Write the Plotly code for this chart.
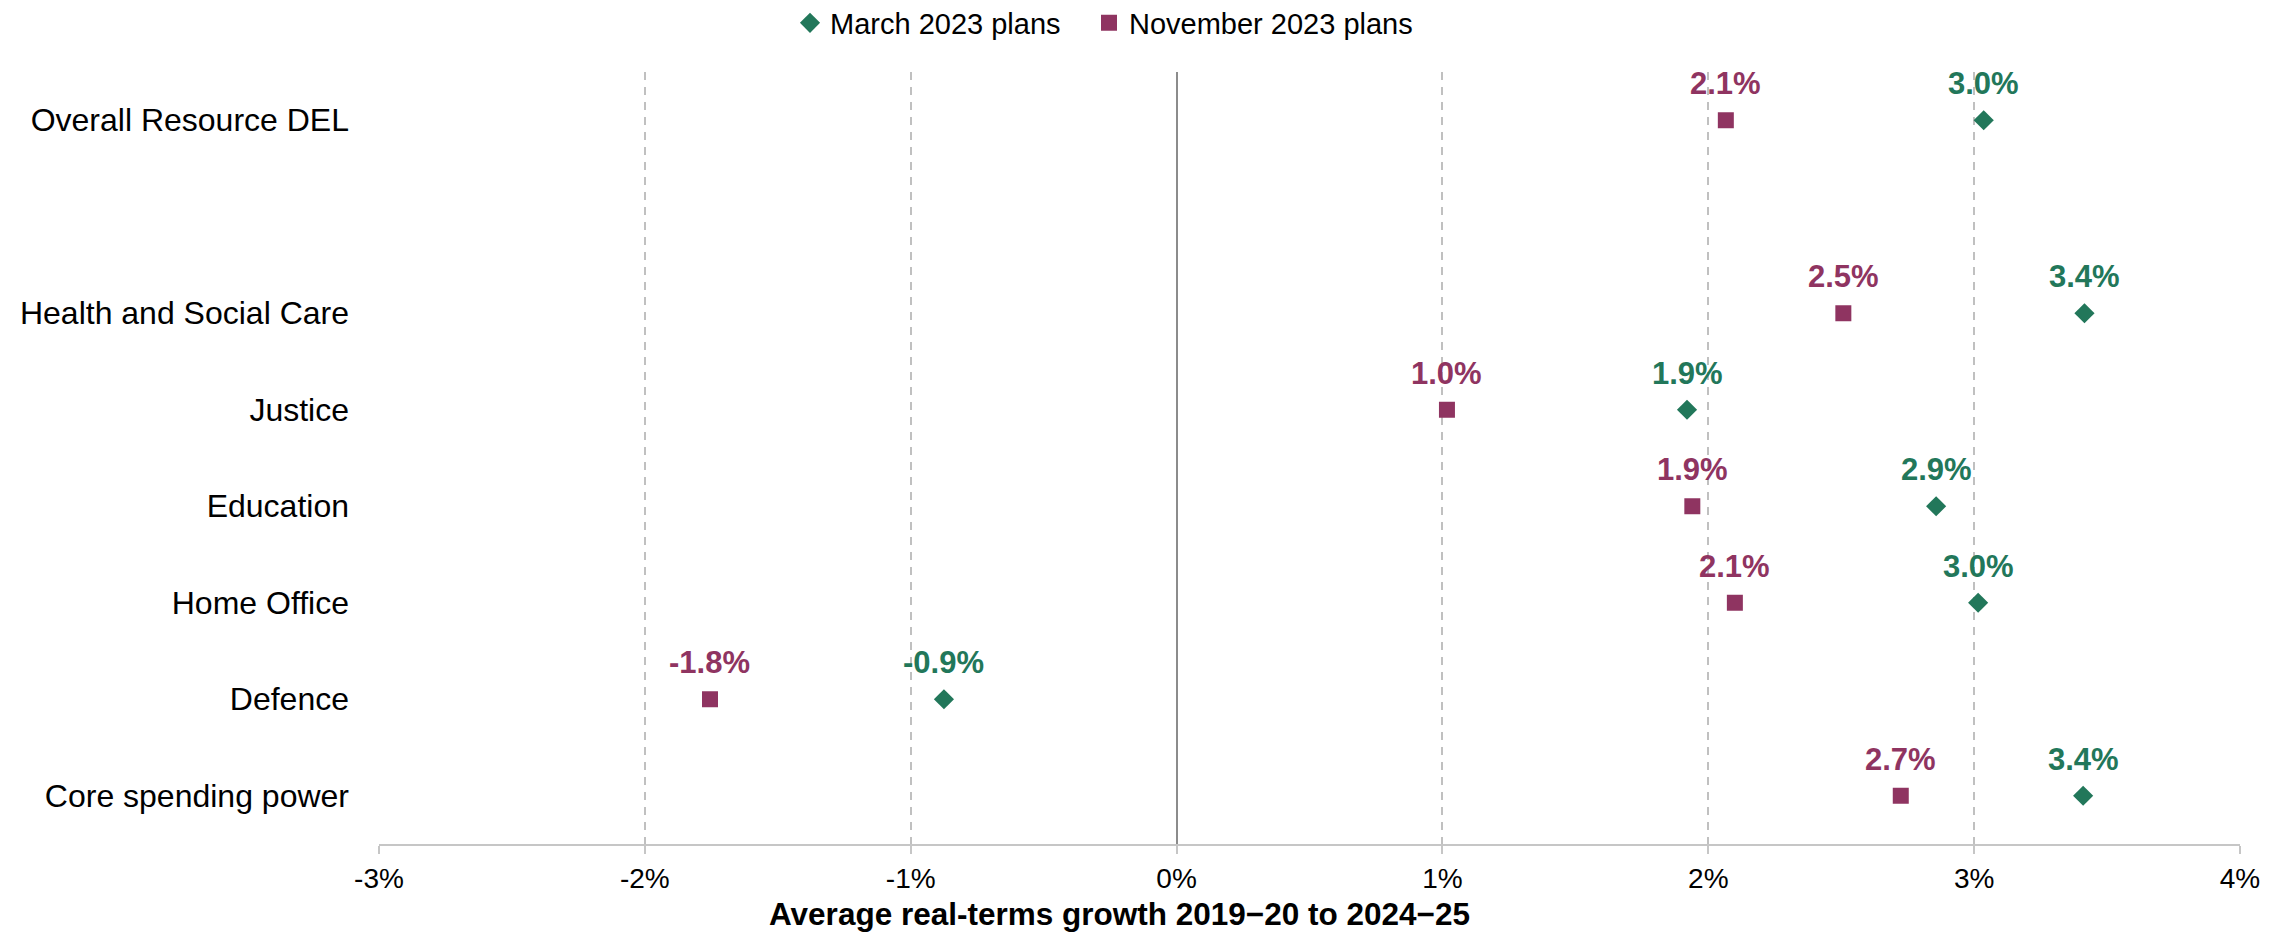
import plotly.graph_objects as go

categories = ["Overall Resource DEL", "Health and Social Care", "Justice", "Education",
              "Home Office", "Defence", "Core spending power"]
march_2023 = [3.036, 3.415, 1.92, 2.857, 3.015, -0.875, 3.41]
november_2023 = [2.066, 2.508, 1.017, 1.94, 2.10, -1.755, 2.724]

x_tickvals = [-3, -2, -1, 0, 1, 2, 3, 4]
x_ticktext = ["-3%", "-2%", "-1%", "0%", "1%", "2%", "3%", "4%"]
x_title = "Average real-terms growth 2019\u221220 to 2024\u221225"
spacer = " "
category_order = [categories[0], spacer] + categories[1:]

GREEN = "#22775A"
PURPLE = "#8F3461"
FONT = "Liberation Sans, Arial, sans-serif"

# page body has an 8px margin, so the figure is sized/placed to compensate
W, H = 2279, 927
L, R, T, B = 365, 47, 64, 91

fig = go.Figure()
fig.add_trace(go.Scatter(
    x=march_2023, y=categories, mode="markers", name="March 2023 plans",
    marker=dict(symbol="diamond", size=15.5, color=GREEN), legend="legend",
))
fig.add_trace(go.Scatter(
    x=november_2023, y=categories, mode="markers", name="November 2023 plans",
    marker=dict(symbol="square", size=16, color=PURPLE), legend="legend2",
))

annotations = []
for vals, col in ((march_2023, GREEN), (november_2023, PURPLE)):
    for v, c in zip(vals, categories):
        annotations.append(dict(
            x=v, y=c, xref="x", yref="y", text=f"<b>{v:.1f}%</b>",
            showarrow=False, yanchor="bottom", xanchor="center", yshift=17,
            font=dict(family=FONT, size=31, color=col),
        ))
plot_w = W - L - R
plot_h = H - T - B
annotations.append(dict(
    x=(1107.5 - L) / plot_w, y=(H - B - 906) / plot_h, xref="paper", yref="paper",
    text=f"<b>{x_title}</b>", showarrow=False, xanchor="center", yanchor="middle",
    font=dict(family=FONT, size=31.5, color="#000000"),
))

legend_common = dict(
    orientation="h", xref="container", yref="container",
    xanchor="left", y=1 - 15 / H, yanchor="middle",
    font=dict(family=FONT, size=29, color="#000000"),
    bgcolor="rgba(0,0,0,0)",
)

fig.update_layout(
    width=W, height=H,
    margin=dict(l=L, r=R, t=T, b=B),
    paper_bgcolor="white", plot_bgcolor="white",
    font=dict(family=FONT, size=29, color="#000000"),
    showlegend=True,
    legend=dict(x=782 / W, **legend_common),
    legend2=dict(x=1081 / W, **legend_common),
    annotations=annotations,
    xaxis=dict(
        range=[-3, 4], tickvals=x_tickvals, ticktext=x_ticktext,
        showgrid=True, gridcolor="#C0C0C0", gridwidth=2, griddash="8px,7px",
        zeroline=True, zerolinecolor="#8C8C8C", zerolinewidth=2,
        showline=True, linecolor="#C6C6C6", linewidth=2,
        ticks="outside", ticklen=8, tickwidth=2, tickcolor="#C6C6C6",
        tickfont=dict(family=FONT, size=28, color="#000000"),
        fixedrange=True,
    ),
    yaxis=dict(
        type="category", categoryorder="array", categoryarray=category_order,
        range=[7.5, -0.5], showgrid=False, zeroline=False, showline=False,
        ticks="", ticklabelstandoff=29,
        tickfont=dict(family=FONT, size=32, color="#000000"),
        fixedrange=True,
    ),
)

fig.write_html("out.html")
